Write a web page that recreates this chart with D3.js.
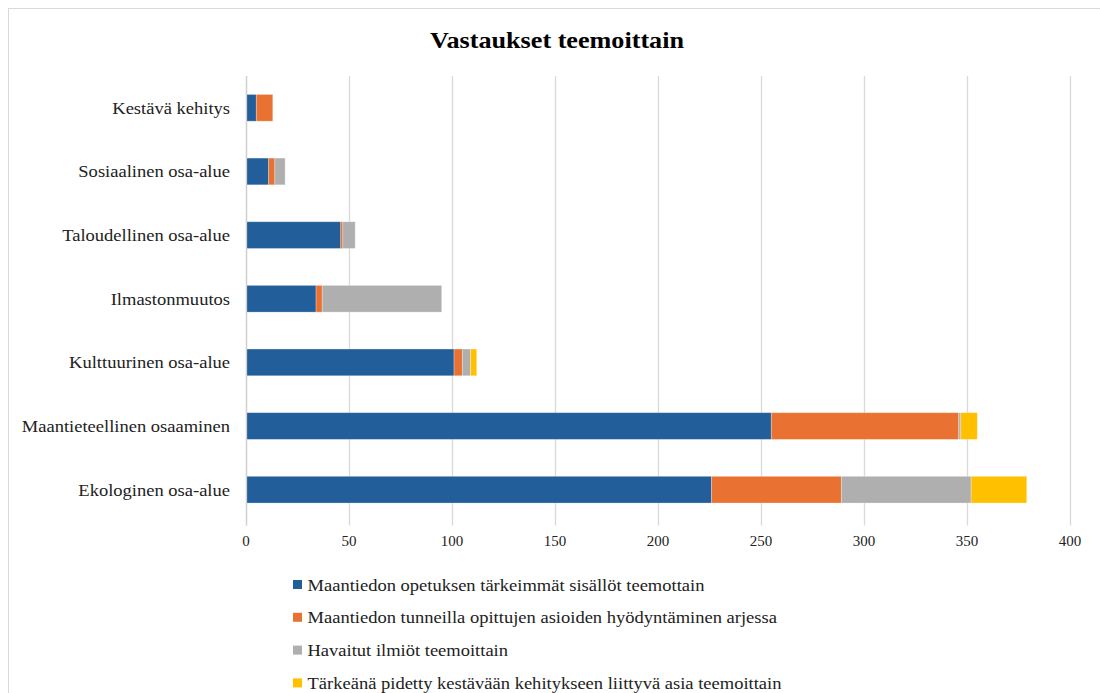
<!DOCTYPE html>
<html>
<head>
<meta charset="utf-8">
<script src="https://cdn.jsdelivr.net/npm/d3@7"></script>
<style>
  html, body { margin: 0; padding: 0; background: #fff; }
  svg { display: block; }
  text { font-family: "Liberation Serif", "Times New Roman", serif; fill: #222; }
</style>
</head>
<body>
<svg id="chart" width="1100" height="693"></svg>
<script>
const categories = [
  "Kestävä kehitys",
  "Sosiaalinen osa-alue",
  "Taloudellinen osa-alue",
  "Ilmastonmuutos",
  "Kulttuurinen osa-alue",
  "Maantieteellinen osaaminen",
  "Ekologinen osa-alue"
];
const seriesNames = [
  "Maantiedon opetuksen tärkeimmät sisällöt teemottain",
  "Maantiedon tunneilla opittujen asioiden hyödyntäminen arjessa",
  "Havaitut ilmiöt teemoittain",
  "Tärkeänä pidetty kestävään kehitykseen liittyvä asia teemoittain"
];
const sisallot   = [5, 11, 46, 34, 101, 255, 226];
const arjessa    = [8, 3, 1, 3, 4, 91, 63];
const ilmiot     = [0, 5, 6, 58, 4, 1, 63];
const kestava    = [0, 0, 0, 0, 3, 8, 27];
const xTicks = [0, 50, 100, 150, 200, 250, 300, 350, 400];
const colors = ["#225e9a", "#e97232", "#afafaf", "#ffc000"];

const svg = d3.select("#chart");
const SX = 1.09; // horizontal stretch of the reference's text

// outer border
svg.append("rect")
  .attr("x", 8.5).attr("y", 8.5)
  .attr("width", 1200).attr("height", 800)
  .attr("fill", "none").attr("stroke", "#d9d9d9").attr("stroke-width", 1);

// title
svg.append("text")
  .attr("transform", `translate(557,48) scale(${SX},1)`)
  .attr("text-anchor", "middle")
  .style("font-size", "24px").style("font-weight", "bold").style("fill", "#000")
  .text("Vastaukset teemoittain");

const plotLeft = 246, plotRight = 1070, plotTop = 76, plotBottom = 521.5;

const x = d3.scaleLinear().domain([0, 400]).range([plotLeft, plotRight]);
const y = d3.scaleBand().domain(categories).range([plotTop, plotBottom]).paddingInner(0.58).paddingOuter(0.29);

// gridlines
svg.append("g")
  .selectAll("line")
  .data(xTicks)
  .join("line")
  .attr("x1", d => Math.round(x(d)) + 0.5).attr("x2", d => Math.round(x(d)) + 0.5)
  .attr("y1", plotTop).attr("y2", plotBottom + 4)
  .attr("stroke", "#d9d9d9").attr("stroke-width", 1.3);

// stacked data
const rows = categories.map((c, i) => ({
  cat: c, s0: sisallot[i], s1: arjessa[i], s2: ilmiot[i], s3: kestava[i]
}));
const stack = d3.stack().keys(["s0", "s1", "s2", "s3"]);
const stacked = stack(rows);

svg.append("g")
  .selectAll("g")
  .data(stacked)
  .join("g")
  .attr("fill", (d, i) => colors[i])
  .selectAll("rect")
  .data(d => d.filter(p => p[1] - p[0] > 0))
  .join("rect")
  .attr("x", d => x(d[0]))
  .attr("y", d => y(d.data.cat))
  .attr("width", d => x(d[1]) - x(d[0]))
  .attr("height", y.bandwidth())
  .attr("stroke", "#ffffff").attr("stroke-opacity", 0.35).attr("stroke-width", 0.8);

// y axis line
svg.append("line")
  .attr("x1", plotLeft + 0.5).attr("x2", plotLeft + 0.5)
  .attr("y1", plotTop).attr("y2", plotBottom + 4)
  .attr("stroke", "#d0d0d0").attr("stroke-width", 1.3);

// category labels
svg.append("g")
  .selectAll("text")
  .data(categories)
  .join("text")
  .attr("transform", d => `translate(230,${y(d) + y.bandwidth() / 2 + 6}) scale(${SX},1)`)
  .attr("text-anchor", "end")
  .style("font-size", "17px")
  .text(d => d);

// x tick labels
svg.append("g")
  .selectAll("text")
  .data(xTicks)
  .join("text")
  .attr("x", d => x(d))
  .attr("y", 546)
  .attr("text-anchor", "middle")
  .style("font-size", "15px")
  .text(d => d);

// legend
const leg = svg.append("g");
seriesNames.forEach((name, i) => {
  const cy = 584.5 + i * 32.8;
  leg.append("rect")
    .attr("x", 293).attr("y", cy - 4.5)
    .attr("width", 9).attr("height", 9)
    .attr("fill", colors[i]);
  leg.append("text")
    .attr("transform", `translate(307.5,${cy + 6}) scale(${SX},1)`)
    .style("font-size", "17px")
    .text(name);
});
</script>
</body>
</html>
